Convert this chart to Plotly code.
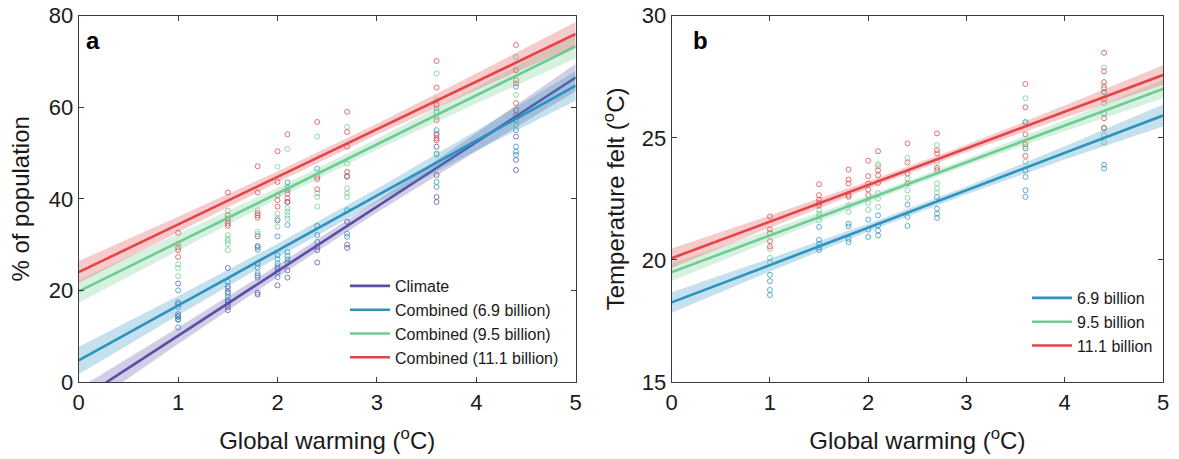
import plotly.graph_objects as go

# ---------------- data ----------------
levels = [1.0, 1.5, 1.8, 2.0, 2.1, 2.4, 2.7, 3.6, 4.4]

# Panel a: % of population, per warming level
a_climate = [[21.5, 17.0, 14.8, 14.2, 13.6], [24.9, 20.9, 19.7, 17.5, 16.4, 15.7],
             [31.8, 29.7, 25.9, 23.3, 19.5, 19.1], [35.3, 24.8, 24.0, 21.1],
             [39.3, 24.4, 22.8], [29.5, 28.8, 26.1], [35.0, 30.0, 29.3],
             [51.4, 45.2, 40.4, 39.3], [58.3, 53.6, 48.5, 46.3]]
a_comb69 = [[20.0, 17.4, 16.4, 14.4, 13.7, 11.9], [21.9, 20.4, 19.3, 18.6, 17.9, 17.0],
            [29.4, 28.9, 25.0, 23.8, 22.8], [31.8, 27.7, 26.8, 25.9, 25.3, 22.9],
            [43.6, 42.4, 34.3, 28.4, 27.5, 26.8, 26.1], [46.6, 34.1, 32.1, 30.6],
            [45.0, 37.5, 32.4, 31.7], [59.0, 55.0, 54.3, 49.9, 43.7, 42.6],
            [64.5, 55.0, 51.4, 50.3, 49.6]]
a_comb95 = [[25.7, 24.9, 23.1], [37.4, 32.1, 31.3, 30.8, 30.1, 28.8], [37.5, 32.8, 32.3],
            [47.0, 36.8, 35.7, 33.9], [50.9, 37.9, 37.2, 36.4, 35.7], [53.6, 41.2, 40.4, 38.3],
            [55.7, 47.7, 42.3, 41.2, 40.4], [67.4, 61.6, 59.8, 57.9, 49.6],
            [71.0, 62.7, 57.2, 56.1]]
a_comb111 = [[32.6, 30.2, 29.4, 28.8, 27.3], [41.4, 36.4, 35.7, 35.1, 34.6, 34.1],
             [47.1, 41.4, 36.9, 36.4, 35.9], [50.4, 43.7, 40.8, 39.7, 38.3],
             [54.1, 41.9, 41.2, 40.1, 39.3], [56.8, 44.8, 44.3, 42.1],
             [59.0, 54.6, 51.4, 45.9, 44.8], [70.1, 64.3, 60.5, 57.2, 53.9, 53.2, 52.8],
             [73.6, 68.1, 65.9, 65.2, 60.9, 59.4]]

# Panel b: temperature felt, per warming level
b_pop69 = [[19.39, 19.13, 18.77, 18.56], [21.35, 20.82, 20.66, 20.52, 20.41],
           [21.48, 21.37, 20.86, 20.73], [21.65, 21.24, 20.94], [21.82, 21.41, 21.2, 21.0],
           [22.26, 21.76, 21.39], [22.58, 22.1, 21.89, 21.72],
           [25.63, 24.56, 23.67, 23.4, 22.85, 22.58], [26.87, 26.0, 25.41, 23.9, 23.74]]
b_pop95 = [[20.45, 20.08, 19.9], [22.03, 21.89, 21.78, 21.62], [22.23, 21.96], [22.33, 22.05],
           [23.92, 23.84, 22.74, 22.51, 22.17], [24.18, 23.33, 22.85, 22.54],
           [24.7, 24.02, 23.13, 22.92, 22.76], [26.62, 25.66, 24.63, 24.02],
           [27.88, 27.14, 26.41, 25.11, 24.81]]
b_pop111 = [[21.78, 21.25, 21.1, 20.77, 20.55], [23.1, 22.65, 22.47, 22.33, 22.23],
            [23.7, 23.29, 23.13, 22.65, 22.58], [24.06, 23.43, 23.13, 22.88, 22.65],
            [24.45, 23.67, 23.47, 23.15], [24.77, 23.99, 23.54, 23.13],
            [25.18, 24.49, 24.36, 23.77, 23.67], [27.2, 26.25, 25.14, 24.73, 24.26],
            [28.48, 27.72, 27.28, 27.03, 26.59, 25.8, 25.39]]

# Regression fits (intercept, slope) and confidence half-widths at band_x
band_x = [0, 1, 2, 3, 4, 5]
a_names = ["Climate", "Combined (6.9 billion)", "Combined (9.5 billion)", "Combined (11.1 billion)"]
a_intercept = [-4.0, 4.7, 19.8, 24.0]
a_slope = [14.1, 12.0, 10.7, 10.4]
a_halfwidth = [[2.6, 1.8, 1.3, 1.3, 2.0, 3.0],
               [3.0, 2.1, 1.5, 1.5, 2.2, 3.2],
               [2.5, 1.8, 1.2, 1.2, 1.8, 2.6],
               [2.4, 1.7, 1.2, 1.2, 1.8, 2.6]]
b_names = ["6.9 billion", "9.5 billion", "11.1 billion"]
b_intercept = [18.26, 19.5, 20.07]
b_slope = [1.53, 1.5, 1.5]
b_halfwidth = [[0.42, 0.27, 0.16, 0.16, 0.27, 0.45],
               [0.36, 0.23, 0.14, 0.14, 0.23, 0.38],
               [0.40, 0.25, 0.15, 0.15, 0.25, 0.40]]

x_ticks = [0, 1, 2, 3, 4, 5]
a_yticks = [0, 20, 40, 60, 80]
b_yticks = [15, 20, 25, 30]

# ---------------- style ----------------
PURPLE = (90, 78, 166)
BLUE = (44, 146, 192)
GREEN = (110, 204, 146)
RED = (226, 68, 72)
a_colors = [PURPLE, BLUE, GREEN, RED]
b_colors = [BLUE, GREEN, RED]
FONT = "Arial, Liberation Sans, sans-serif"
AXC = "#3a3a3a"


def rgba(c, a):
    return f"rgba({c[0]},{c[1]},{c[2]},{a})"


fig = go.Figure()


def add_points(series, color, xa, ya):
    xs, ys = [], []
    for lv, vals in zip(levels, series):
        for v in vals:
            xs.append(lv)
            ys.append(v)
    fig.add_trace(go.Scatter(x=xs, y=ys, mode="markers", xaxis=xa, yaxis=ya,
                             marker=dict(symbol="circle-open", size=5,
                                         color=rgba(color, 0.75), line=dict(width=1)),
                             showlegend=False, hoverinfo="skip"))


def add_fit(b0, b1, hw, color, name, xa, ya, legend):
    up = [b0 + b1 * x + h for x, h in zip(band_x, hw)]
    lo = [b0 + b1 * x - h for x, h in zip(band_x, hw)]
    fig.add_trace(go.Scatter(x=band_x + band_x[::-1], y=up + lo[::-1], fill="toself",
                             fillcolor=rgba(color, 0.28), line=dict(width=0),
                             mode="lines", xaxis=xa, yaxis=ya, showlegend=False,
                             hoverinfo="skip"))
    fig.add_trace(go.Scatter(x=[band_x[0], band_x[-1]],
                             y=[b0 + b1 * band_x[0], b0 + b1 * band_x[-1]],
                             mode="lines", line=dict(color=rgba(color, 1), width=2.6),
                             xaxis=xa, yaxis=ya, name=name, legend=legend))


for s, c in zip([a_climate, a_comb69, a_comb95, a_comb111], a_colors):
    add_points(s, c, "x", "y")
for s, c in zip([b_pop69, b_pop95, b_pop111], b_colors):
    add_points(s, c, "x2", "y2")

for i in range(4):
    add_fit(a_intercept[i], a_slope[i], a_halfwidth[i], a_colors[i], a_names[i], "x", "y", "legend")
for i in range(3):
    add_fit(b_intercept[i], b_slope[i], b_halfwidth[i], b_colors[i], b_names[i], "x2", "y2", "legend2")

W, H = 1179, 459
ytop, ybot = 1 - 15.7 / H, 1 - 382 / H

axis_common = dict(showline=True, linecolor=AXC, linewidth=1.2, mirror="ticks",
                   ticks="inside", ticklen=5, tickcolor=AXC, showgrid=False, zeroline=False,
                   automargin=False,
                   tickfont=dict(family=FONT, size=22, color="#1a1a1a"))

fig.update_layout(
    template="none",
    width=W, height=H,
    margin=dict(l=0, r=0, t=0, b=0, pad=0),
    paper_bgcolor="white", plot_bgcolor="white",
    font=dict(family=FONT, color="#1a1a1a"),
    xaxis=dict(domain=[78.7 / W, 575.7 / W], range=[0, 5], tickvals=x_ticks, anchor="y",
               title=dict(text="Global warming (<sup>o</sup>C)", font=dict(size=24), standoff=18),
               **axis_common),
    yaxis=dict(domain=[ybot, ytop], range=[0, 80], tickvals=a_yticks, anchor="x",
               title=dict(text="% of population", font=dict(size=24), standoff=12),
               **axis_common),
    xaxis2=dict(domain=[671.7 / W, 1163 / W], range=[0, 5], tickvals=x_ticks, anchor="y2",
                title=dict(text="Global warming (<sup>o</sup>C)", font=dict(size=24), standoff=18),
                **axis_common),
    yaxis2=dict(domain=[ybot, ytop], range=[15, 30], tickvals=b_yticks, anchor="x2",
                title=dict(text="Temperature felt (<sup>o</sup>C)", font=dict(size=24), standoff=10),
                **axis_common),
    legend=dict(x=345 / W, y=1 - 269 / H, xanchor="left", yanchor="top",
                bgcolor="rgba(0,0,0,0)", font=dict(family=FONT, size=16),
                itemwidth=40, tracegroupgap=0),
    legend2=dict(x=1027 / W, y=1 - 281 / H, xanchor="left", yanchor="top",
                 bgcolor="rgba(0,0,0,0)", font=dict(family=FONT, size=16),
                 itemwidth=40, tracegroupgap=0),
    annotations=[
        dict(text="<b>a</b>", xref="x domain", yref="y domain", x=0.01, y=0.933,
             xanchor="left", yanchor="middle", showarrow=False, font=dict(size=24, color="black")),
        dict(text="<b>b</b>", xref="x2 domain", yref="y2 domain", x=0.04, y=0.933,
             xanchor="left", yanchor="middle", showarrow=False, font=dict(size=24, color="black")),
    ],
)

fig.write_html("out.html")
